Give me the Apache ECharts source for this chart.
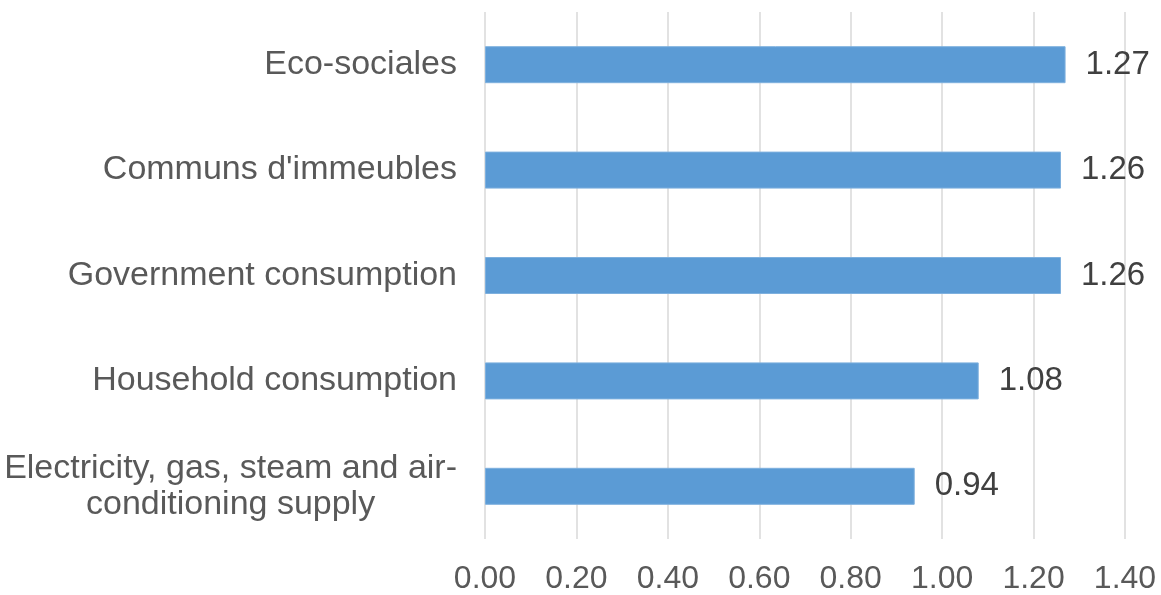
<!DOCTYPE html>
<html>
<head>
<meta charset="utf-8">
<script src="https://cdn.jsdelivr.net/npm/echarts@6/dist/echarts.min.js"></script>
<style>
html,body{margin:0;padding:0;background:#fff;}
#chart{width:1161px;height:595px;}
</style>
</head>
<body>
<div id="chart"></div>
<script>
var categories = [
  "Electricity, gas, steam and air-\nconditioning supply",
  "Household consumption",
  "Government consumption",
  "Communs d'immeubles",
  "Eco-sociales"
];
var values = [0.94, 1.08, 1.26, 1.26, 1.27];
var xTicks = { min: 0, max: 1.4, interval: 0.2 };

var chart = echarts.init(document.getElementById('chart'), null, { renderer: 'canvas' });
chart.setOption({
  animation: false,
  backgroundColor: '#ffffff',
  grid: { left: 485, right: 36, top: 12, bottom: 56, containLabel: false },
  xAxis: {
    type: 'value',
    min: xTicks.min, max: xTicks.max, interval: xTicks.interval,
    axisLine: { show: false },
    axisTick: { show: false },
    splitLine: { show: true, lineStyle: { color: '#d9d9d9', width: 1.5 } },
    axisLabel: {
      formatter: function (v) { return v.toFixed(2); },
      color: '#595959', fontSize: 32, fontFamily: 'Liberation Sans, Arial, sans-serif',
      margin: 24
    }
  },
  yAxis: {
    type: 'category',
    data: categories,
    axisLine: { show: false },
    axisTick: { show: false },
    splitLine: { show: false },
    axisLabel: {
      color: '#595959', fontSize: 34, fontFamily: 'Liberation Sans, Arial, sans-serif',
      margin: 28,
      formatter: function (v) {
        return v.split('\n').map(function (l) { return '{c|' + l + '}'; }).join('\n');
      },
      rich: {
        c: { align: 'center', color: '#595959', fontSize: 34, lineHeight: 36,
             fontFamily: 'Liberation Sans, Arial, sans-serif' }
      }
    }
  },
  series: [{
    type: 'bar',
    data: values,
    barWidth: 37,
    itemStyle: { color: '#5b9bd5', borderColor: '#7eb0de', borderWidth: 1 },
    label: {
      show: true, position: 'right', distance: 20,
      formatter: function (p) { return p.value.toFixed(2); },
      color: '#404040', fontSize: 33, fontFamily: 'Liberation Sans, Arial, sans-serif'
    }
  }]
});
</script>
</body>
</html>
